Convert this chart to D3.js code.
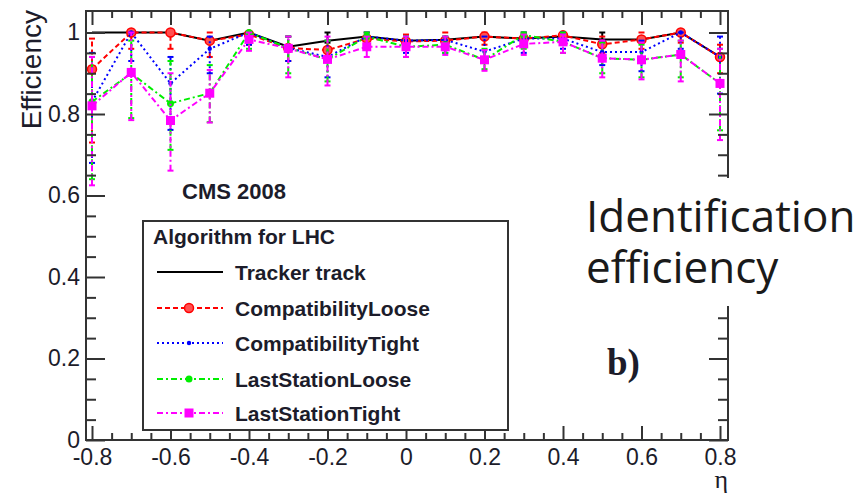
<!DOCTYPE html>
<html><head><meta charset="utf-8">
<script src="https://cdn.jsdelivr.net/npm/d3@7"></script>
<style>body{margin:0;background:#fff}svg{display:block}</style>
</head><body>
<script>
const eta = [-0.8,-0.7,-0.6,-0.5,-0.4,-0.3,-0.2,-0.1,0,0.1,0.2,0.3,0.4,0.5,0.6,0.7,0.8];
const xTickValues = [-0.8,-0.6,-0.4,-0.2,0,0.2,0.4,0.6,0.8];
const yTickValues = [0,0.2,0.4,0.6,0.8,1];
const seriesNames = ["Tracker track","CompatibilityLoose","CompatibilityTight","LastStationLoose","LastStationTight"];

const trackerVal = [1.0,1.0,1.0,0.98,1.0,0.965,0.98,0.99,0.98,0.982,0.99,0.985,0.99,0.983,0.983,1.0,0.94];
const trackerLo  = [1.0,1.0,1.0,0.98,1.0,0.965,0.975,0.99,0.98,0.982,0.99,0.985,0.99,0.975,0.983,1.0,0.94];
const trackerHi  = [1.0,1.0,1.0,0.98,1.0,0.965,1.0,0.99,0.98,0.982,0.99,0.985,0.99,1.0,0.983,1.0,0.94];

const looseVal = [0.91,1.0,1.0,0.98,0.995,0.962,0.957,0.985,0.978,0.98,0.99,0.985,0.993,0.971,0.983,1.0,0.94];
const looseLo  = [0.73,0.96,0.96,0.94,0.97,0.93,0.93,0.965,0.96,0.96,0.97,0.965,0.975,0.95,0.96,0.975,0.9];
const looseHi  = [0.985,1.0,1.0,1.0,1.0,0.99,0.98,1.0,0.995,1.0,1.0,1.0,1.0,0.99,1.0,1.0,0.97];

const tightVal = [0.83,1.0,0.875,0.96,1.0,0.962,0.94,0.99,0.98,0.982,0.953,0.985,0.985,0.952,0.952,1.0,0.94];
const tightLo  = [0.68,0.93,0.761,0.9,0.97,0.93,0.89,0.96,0.95,0.95,0.93,0.95,0.96,0.92,0.905,0.96,0.85];
const tightHi  = [0.95,1.0,0.94,0.99,1.0,0.99,0.98,1.0,0.99,0.99,0.99,1.0,1.0,0.98,0.98,1.0,0.99];

const lsLooseVal = [0.83,0.9,0.826,0.851,1.0,0.962,0.934,0.99,0.965,0.97,0.933,0.994,0.977,0.937,0.933,0.946,0.875];
const lsLooseLo  = [0.64,0.79,0.712,0.78,0.96,0.9,0.88,0.96,0.94,0.95,0.91,0.96,0.95,0.9,0.89,0.89,0.76];
const lsLooseHi  = [0.94,0.98,0.93,0.92,1.0,0.99,0.98,1.0,0.99,0.99,0.96,1.0,1.0,0.975,0.97,0.98,0.96];

const lsTightVal = [0.82,0.902,0.784,0.851,0.983,0.961,0.934,0.965,0.965,0.965,0.933,0.972,0.977,0.937,0.933,0.946,0.875];
const lsTightLo  = [0.625,0.785,0.661,0.779,0.955,0.89,0.87,0.94,0.94,0.945,0.906,0.945,0.95,0.89,0.885,0.88,0.736];
const lsTightHi  = [0.94,1.0,0.9,0.908,1.0,0.99,0.99,0.99,0.99,0.99,0.957,0.995,0.995,0.98,0.975,0.98,0.96];

const styles = [
  {color:"#000000", dash:null, marker:"none"},
  {color:"#ff0000", dash:"5,3", marker:"circleRing"},
  {color:"#0000ff", dash:"2,3", marker:"dot"},
  {color:"#00ee00", dash:"6,3,2,3", marker:"circle"},
  {color:"#ff00ff", dash:"6,3,2,3", marker:"square"}
];
const series = [
  {val:trackerVal, lo:trackerLo, hi:trackerHi},
  {val:looseVal, lo:looseLo, hi:looseHi},
  {val:tightVal, lo:tightLo, hi:tightHi},
  {val:lsLooseVal, lo:lsLooseLo, hi:lsLooseHi},
  {val:lsTightVal, lo:lsTightLo, hi:lsTightHi}
];

const W = 867, H = 497;
const svg = d3.select("body").append("svg").attr("width", W).attr("height", H);

const x = d3.scaleLinear().domain([-0.8, 0.8]).range([92, 720]);
const y = d3.scaleLinear().domain([0, 1]).range([440, 32.5]);
const xL = x.invert(86), xR = x.invert(728);
const yT = y.invert(11);

const axisColor = "#333";
const lblColor = "#1c1c2a";
const fmt = d => d === 0 ? "0" : (d === 1 ? "1" : d.toFixed(1));

// data
const line = d3.line().x((d,i) => x(eta[i])).y(d => y(d));
const gData = svg.append("g");
series.forEach((s, k) => {
  const st = styles[k];
  const g = gData.append("g");
  g.append("path").datum(s.val).attr("d", line)
    .attr("fill","none").attr("stroke", st.color).attr("stroke-width", 2)
    .attr("stroke-dasharray", st.dash);
  eta.forEach((e, i) => {
    if (s.hi[i] - s.lo[i] < 0.001) return;
    g.append("line").attr("x1", x(e)).attr("x2", x(e))
      .attr("y1", y(s.lo[i])).attr("y2", y(s.hi[i]))
      .attr("stroke", st.color).attr("stroke-width", 2).attr("stroke-dasharray", st.dash);
    [s.lo[i], s.hi[i]].forEach(v => {
      g.append("line").attr("x1", x(e)-3).attr("x2", x(e)+3)
        .attr("y1", y(v)).attr("y2", y(v))
        .attr("stroke", st.color).attr("stroke-width", 2);
    });
  });
  s.val.forEach((v, i) => drawMarker(g, st, x(eta[i]), y(v)));
});

function drawMarker(g, st, cx, cy) {
  if (st.marker === "circleRing") {
    g.append("circle").attr("cx", cx).attr("cy", cy).attr("r", 4.5)
      .attr("fill", "#ff5050").attr("stroke", st.color).attr("stroke-width", 1.5);
  } else if (st.marker === "dot") {
    g.append("circle").attr("cx", cx).attr("cy", cy).attr("r", 2.2).attr("fill", st.color);
  } else if (st.marker === "circle") {
    g.append("circle").attr("cx", cx).attr("cy", cy).attr("r", 3.5).attr("fill", st.color);
  } else if (st.marker === "square") {
    g.append("rect").attr("x", cx-4.5).attr("y", cy-4.5).attr("width", 9).attr("height", 9).attr("fill", st.color);
  }
}

// axes
const xMinor = d3.range(-16, 17).map(i => i*0.05).filter(v => !xTickValues.some(t => Math.abs(t-v) < 1e-6) && v >= xL && v <= xR);
const yMinor = d3.range(0, 21).map(i => i*0.05).filter(v => !yTickValues.some(t => Math.abs(t-v) < 1e-6) && v <= yT);

function styleAxis(g) {
  g.select(".domain").remove();
  g.selectAll(".tick line").attr("stroke", axisColor).attr("stroke-width", 2);
  g.selectAll(".tick text").attr("fill", lblColor).style("font-family","'Liberation Sans', Arial, sans-serif").style("font-size","23px");
}

svg.append("g").attr("transform","translate(0,440)")
  .call(d3.axisBottom(x).tickValues(xTickValues).tickSize(-14).tickPadding(9).tickFormat(fmt)).call(styleAxis);
svg.append("g").attr("transform","translate(0,440)")
  .call(d3.axisBottom(x).tickValues(xMinor).tickSize(-7).tickFormat("")).call(styleAxis);
svg.append("g").attr("transform","translate(0,11)")
  .call(d3.axisTop(x).tickValues(xTickValues).tickSize(-14).tickFormat("")).call(styleAxis);
svg.append("g").attr("transform","translate(0,11)")
  .call(d3.axisTop(x).tickValues(xMinor).tickSize(-7).tickFormat("")).call(styleAxis);

svg.append("g").attr("transform","translate(86,0)")
  .call(d3.axisLeft(y).tickValues(yTickValues).tickSize(-19).tickPadding(6).tickFormat(fmt)).call(styleAxis);
svg.append("g").attr("transform","translate(86,0)")
  .call(d3.axisLeft(y).tickValues(yMinor).tickSize(-10).tickFormat("")).call(styleAxis);
svg.append("g").attr("transform","translate(728,0)")
  .call(d3.axisRight(y).tickValues(yTickValues).tickSize(-19).tickFormat("")).call(styleAxis);
svg.append("g").attr("transform","translate(728,0)")
  .call(d3.axisRight(y).tickValues(yMinor).tickSize(-10).tickFormat("")).call(styleAxis);

// frame
svg.append("rect").attr("x", x(xL)).attr("y", y(yT)).attr("width", x(xR)-x(xL)).attr("height", y(0)-y(yT))
  .attr("fill","none").attr("stroke", axisColor).attr("stroke-width", 2);

// axis titles
svg.append("text").attr("transform","translate(41,10) rotate(-90)").attr("text-anchor","end")
  .style("font-family","'Liberation Sans', Arial, sans-serif").style("font-size","28px").attr("fill", lblColor)
  .text("Efficiency");
svg.append("text").attr("x", 728).attr("y", 488).attr("text-anchor","end")
  .style("font-family","'Liberation Serif', serif").style("font-size","26px").attr("fill", lblColor)
  .text("η");

// CMS label
svg.append("text").attr("x", 182).attr("y", 199)
  .style("font-family","'Liberation Sans', Arial, sans-serif").style("font-size","22px").style("font-weight","bold").attr("fill", lblColor)
  .text("CMS 2008");

// legend
const lg = svg.append("g");
lg.append("rect").attr("x",143).attr("y",221).attr("width",365).attr("height",209)
  .attr("fill","#fff").attr("stroke", axisColor).attr("stroke-width", 2);
lg.append("text").attr("x",153).attr("y",244)
  .style("font-family","'Liberation Sans', Arial, sans-serif").style("font-size","21px").style("font-weight","bold").attr("fill", lblColor)
  .text("Algorithm for LHC");
const legY = [272, 308, 343, 379, 413];
seriesNames.forEach((nm, k) => {
  const st = styles[k];
  const yy = legY[k];
  lg.append("line").attr("x1",157).attr("x2",223).attr("y1",yy).attr("y2",yy)
    .attr("stroke", st.color).attr("stroke-width", 2).attr("stroke-dasharray", st.dash);
  drawMarker(lg, st, 189, yy);
  lg.append("text").attr("x",235).attr("y",yy+8)
    .style("font-family","'Liberation Sans', Arial, sans-serif").style("font-size","21px").style("font-weight","bold").attr("fill", lblColor)
    .text(nm);
});

// b)
svg.append("text").attr("x",607).attr("y",375)
  .style("font-family","'Liberation Serif', serif").style("font-size","37px").style("font-weight","bold").attr("fill", lblColor)
  .text("b)");

// overlay caption
svg.append("rect").attr("x",580).attr("y",178).attr("width",287).attr("height",128).attr("fill","#fff");
const cap = svg.append("text").style("font-family","'Open Sans', sans-serif").style("font-size","44px").attr("fill","#1a1a1a");
cap.append("tspan").attr("x",586).attr("y",232).text("Identification");
cap.append("tspan").attr("x",586).attr("y",283).text("efficiency");
</script>
</body></html>
